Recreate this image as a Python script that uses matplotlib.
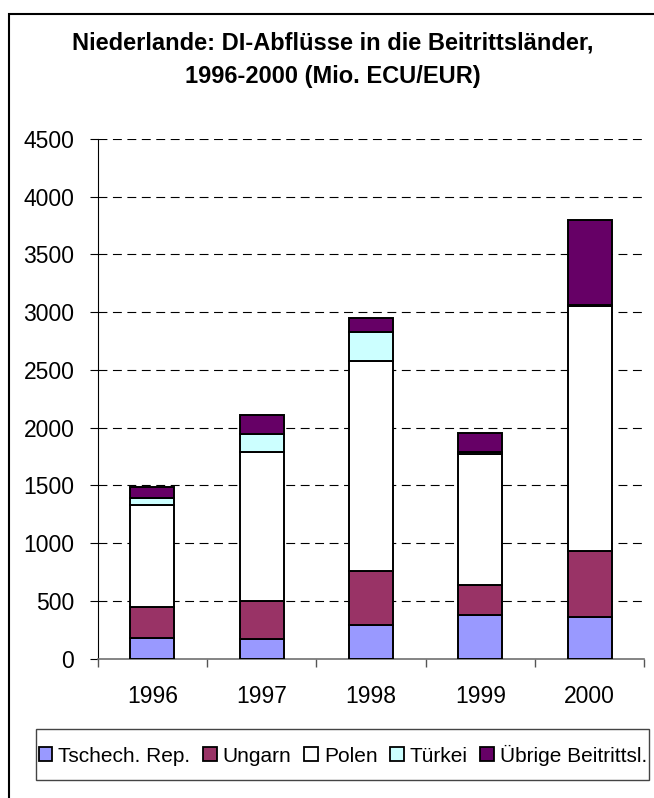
import matplotlib
matplotlib.use("Agg")
import matplotlib.pyplot as plt
from matplotlib.patches import Patch, Rectangle
import numpy as np

plt.rcParams['font.family'] = ['Liberation Sans', 'DejaVu Sans']

years = ["1996", "1997", "1998", "1999", "2000"]
countries = ["Tschech. Rep.", "Ungarn", "Polen", "Türkei", "Übrige Beitrittsl."]
colors = ["#9999FF", "#993366", "#FFFFFF", "#CCFFFF", "#660066"]

# outflows per year, Mio. ECU/EUR
tschech = [182, 170, 292, 376, 364]
ungarn = [263, 332, 465, 260, 569]
polen = [883, 1291, 1819, 1140, 2121]
tuerkei = [66, 156, 253, 15, 10]
uebrige = [93, 159, 124, 161, 738]
series = [tschech, ungarn, polen, tuerkei, uebrige]

yticks = list(range(0, 5000, 500))

W, H = 654, 798
fig = plt.figure(figsize=(W / 100, H / 100), dpi=100)
ax = fig.add_axes([97.7 / W, 1 - 658.7 / H, (644.3 - 97.7) / W,
                   (658.7 - 139) / H])

x = np.arange(len(years))
bottom = np.zeros(len(years))
for vals, col in zip(series, colors):
    ax.bar(x, vals, width=0.4, bottom=bottom, color=col,
           edgecolor="black", linewidth=1.4, zorder=3)
    bottom += np.array(vals)

# dashed horizontal gridlines
ax.hlines(yticks[1:], -0.5, 4.5, colors="black", linewidth=0.8,
          linestyles=(0, (8, 5)), zorder=1)

ax.set_xlim(-0.5, 4.5)
ax.set_ylim(0, 4500)
ax.set_yticks(yticks)
ax.set_yticklabels([str(t) for t in yticks], fontsize=16.5)
ax.set_xticks(x)
ax.set_xticklabels(years, fontsize=16.5)
ax.set_xticks(np.arange(-0.5, 5, 1), minor=True)
ax.tick_params(axis="x", which="major", length=0, pad=19)
ax.tick_params(axis="x", which="minor", length=6, width=1,
               color="#555555", direction="out")
ax.tick_params(axis="y", length=5.8, width=0.8, direction="out", pad=11)

for side in ["top", "right"]:
    ax.spines[side].set_visible(False)
ax.spines["left"].set_linewidth(0.8)
ax.spines["bottom"].set_color("#707070")
ax.spines["bottom"].set_linewidth(1.2)

fig.text(333 / W, 1 - 43 / H, "Niederlande: DI-Abflüsse in die Beitrittsländer,",
         fontsize=17, fontweight="bold", ha="center", va="center")
fig.text(333 / W, 1 - 76 / H, "1996-2000 (Mio. ECU/EUR)",
         fontsize=17, fontweight="bold", ha="center", va="center")

# outer chart frame
fig.add_artist(Rectangle((9.3 / W, -0.5), 2, 0.5 + 1 - 14 / H,
                         transform=fig.transFigure, fill=False,
                         edgecolor="black", linewidth=1.5))

# legend box
fig.add_artist(Rectangle((36 / W, 1 - 780 / H), (649 - 36) / W, 51 / H,
                         transform=fig.transFigure, fill=False,
                         edgecolor="#444444", linewidth=1.0))
handles = [Patch(facecolor=c, edgecolor="black", linewidth=1.3) for c in colors]
fig.legend(handles, countries, loc="center", ncol=5, frameon=False,
           bbox_to_anchor=(343 / W, 1 - 755 / H), fontsize=15,
           handlelength=0.65, handleheight=0.65, handletextpad=0.3,
           columnspacing=0.6)

fig.savefig("out.png", dpi=100)
